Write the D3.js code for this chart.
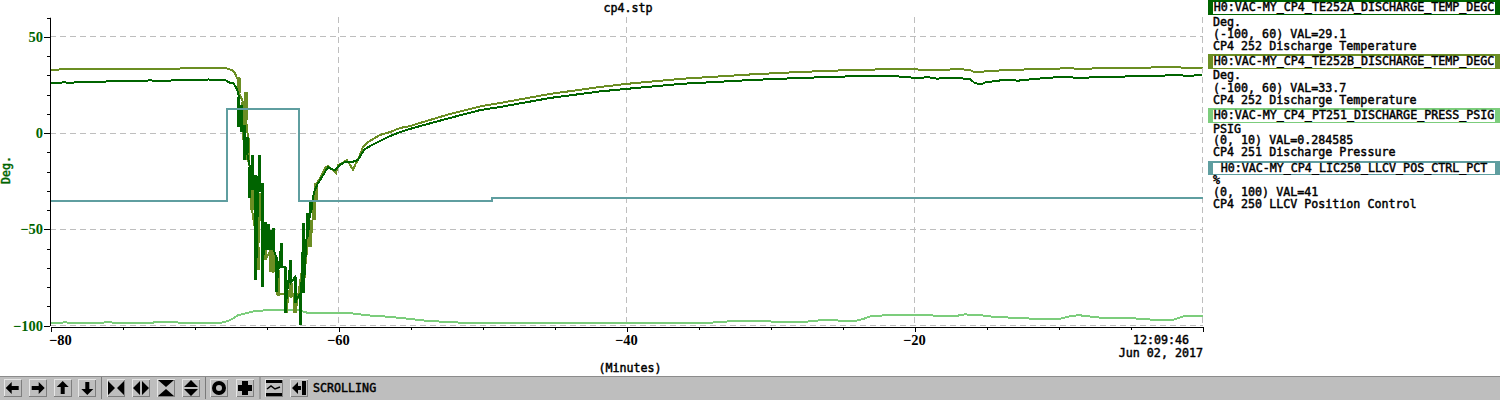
<!DOCTYPE html>
<html><head><meta charset="utf-8">
<script src="https://cdn.jsdelivr.net/npm/d3@7/dist/d3.min.js"></script>
<style>html,body{margin:0;padding:0;background:#fff;overflow:hidden}svg{display:block}
text{font-family:"DejaVu Sans Mono",monospace;font-size:11.67px;fill:#000;font-weight:normal}
.mono{stroke-width:.45px}
</style></head><body><svg id="c" width="1500" height="400"></svg>
<script>
const titleText="cp4.stp", xLabel="(Minutes)", yLabel="Deg.", timeLabel="12:09:46", dateLabel="Jun 02, 2017", statusText="SCROLLING";
const xMajorTicks=[-80,-60,-40,-20,0], xTickLabels=["-80","-60","-40","-20"];
const yMajorTicks=[-100,-50,0,50];
const legendNames=["H0:VAC-MY_CP4_TE252A_DISCHARGE_TEMP_DEGC","H0:VAC-MY_CP4_TE252B_DISCHARGE_TEMP_DEGC","H0:VAC-MY_CP4_PT251_DISCHARGE_PRESS_PSIG","H0:VAC-MY_CP4_LIC250_LLCV_POS_CTRL_PCT"];
const legendUnits=["Deg.","Deg.","PSIG","%"];
const legendRanges=["(-100, 60) VAL=29.1","(-100, 60) VAL=33.7","(0, 10) VAL=0.284585","(0, 100) VAL=41"];
const legendDescs=["CP4 252 Discharge Temperature","CP4 252 Discharge Temperature","CP4 251 Discharge Pressure","CP4 250 LLCV Position Control"];
const seriesColors=["#006400","#6b8e23","#7ccd7c","#5f9ea0"];

// [minutes, deg]
const tempAStart=[[-79.96,26],[-79,26.3],[-78.6,26],[-78,26.6],[-77,26.4],[-76,26.8],[-75,27],[-73,27.3],[-72.5,26.9],[-72,27.2],[-71,27.4],[-70,27.4],[-69,27.8],[-68.5,27.5],[-67.88,27.5],[-67.53,26],[-67.33,26],[-67.12,23.9],[-66.98,21.3]];
// [minutes, high, low]: the envelope of one burst of readings
const tempABins=[[-66.91,18.7,3.1],[-66.77,14.6,0.5],[-66.56,4.2,-14],[-66.35,-2.1,-10.4],[-66.15,-17.7,-33.8],[-65.94,-11.4,-29.6],[-65.76,-21.8,-46.2],[-65.73,-45.2,-76.4],[-65.52,-11.4,-30.6],[-65.31,-26,-80],[-65.10,-46.2,-60.8],[-64.89,-47.3,-60.8],[-64.69,-50.4,-60.8],[-64.48,-49.4,-60.8],[-64.34,-64.4,-82.6],[-63.96,-57.1,-69.6],[-63.71,-69.6,-93.5],[-63.33,-66,-77.9],[-63.02,-74.8,-88.3],[-62.67,-83.1,-99.7],[-62.43,-46.8,-83.1],[-62.12,-41.6,-54],[-61.91,-34.8,-41.6]];
const tempAEnd=[[-61.7,-30.6],[-61.42,-26],[-61.28,-24.4],[-60.94,-20.3],[-60.73,-17.7],[-60.52,-18.7],[-60.24,-19.2],[-59.9,-16.6],[-59.55,-15.1],[-59.06,-15.1],[-58.65,-14],[-58.37,-10.4],[-58.16,-8.3],[-57.67,-6.2],[-57.12,-4.2],[-56.42,-1.6],[-55.73,0.5],[-55.03,2.1],[-54.34,3.6],[-52.26,7.8],[-50.17,11.9],[-48.78,13.5],[-45.31,18.2],[-41.84,21.6],[-40.03,22.9],[-36.28,25.5],[-31.42,27.5],[-27.95,28.6],[-23.78,29.6],[-22.5,29.4],[-21.5,29.6],[-20.03,28.7],[-19,28.9],[-18.4,28.2],[-17.8,28.8],[-16.84,28.4],[-16.15,28.1],[-15.8,25.8],[-15.3,25.5],[-15.1,26.3],[-14.06,27.3],[-13.37,27.5],[-12.8,27.2],[-11.63,28.1],[-9.9,29.1],[-9.2,29.1],[-8.7,28.4],[-8.51,28.6],[-7.12,29.1],[-3.65,29.6],[-2.5,29.9],[-1.91,30.1],[-1.5,30.2],[-1.22,29.6],[-0.5,29.9],[0,30]];

const tempBStart=[[-79.96,32.5],[-79.4,33],[-78,33],[-76,33],[-74,33],[-72,33.2],[-71,33.5],[-69.5,33.6],[-68.5,33.8],[-67.88,33.8],[-67.4,32.7],[-67.19,31.2],[-67.05,28.6]];
const tempBBins=[[-66.91,28.6,20.8],[-66.63,16.1,7.8],[-66.53,6.8,-3.6],[-66.42,21.3,6.8],[-66.28,-2.6,-14],[-66.15,-17.7,-26],[-66.01,-21.8,-40],[-65.59,-59.2,-71.2],[-65.49,-31.2,-41.6],[-65.07,-54,-66],[-64.72,-60.8,-72.2],[-64.55,-59.7,-72.2],[-64.2,-71.2,-84.2],[-63.65,-83.1,-93.5],[-63.33,-77.9,-85.2],[-62.99,-83.1,-93.5],[-62.4,-64.4,-75.3],[-61.95,-45.2,-59.2],[-61.7,-34.8,-45.2],[-61.56,-26,-34.8]];
const tempBEnd=[[-61.49,-26],[-61.28,-23.4],[-60.94,-18.2],[-60.73,-17.1],[-60.17,-20.8],[-60.03,-16.6],[-59.76,-15.6],[-59.41,-14],[-58.99,-19.2],[-58.85,-16.6],[-58.65,-14],[-58.3,-7.3],[-57.95,-4.7],[-57.12,-1],[-56.42,0.5],[-55.73,2.6],[-55.03,3.6],[-54.34,5.2],[-52.26,9.9],[-50.17,13.8],[-48.78,15.6],[-45.31,20.3],[-41.84,23.9],[-40.03,25.5],[-36.28,28.1],[-31.42,30.4],[-27.95,31.7],[-23.78,32.9],[-20.03,33.2],[-19.5,32.8],[-18,32.9],[-16.84,33.1],[-16.15,32.8],[-15.8,31.4],[-15.1,32],[-14.06,32.5],[-13.37,32.7],[-11.63,33.2],[-9.9,33.5],[-9.2,33.7],[-8.51,33.2],[-7.12,33.7],[-3.65,34],[-1.91,34.5],[-1.22,33.7],[-0.4,34],[0,33.8]];

// [minutes, psig]
const pressSamples=[[-79.96,0.08],[-79,0.1],[-78,0.08],[-76,0.1],[-74,0.08],[-72,0.11],[-70,0.08],[-68.5,0.08],[-68,0.1],[-67.6,0.16],[-67.3,0.23],[-67,0.33],[-66.5,0.39],[-66,0.45],[-65.2,0.49],[-64,0.51],[-63,0.51],[-62.6,0.47],[-62.2,0.42],[-61,0.42],[-60,0.39],[-59,0.39],[-58,0.33],[-57,0.3],[-56,0.26],[-54,0.16],[-52,0.1],[-50,0.08],[-48,0.07],[-46,0.08],[-44,0.08],[-42,0.09],[-40,0.08],[-38,0.07],[-36,0.08],[-34.5,0.08],[-33,0.13],[-31.5,0.15],[-30,0.13],[-28,0.1],[-26.5,0.17],[-25,0.16],[-24,0.16],[-23.5,0.22],[-23,0.31],[-22,0.33],[-21,0.34],[-20,0.35],[-18.5,0.32],[-17,0.32],[-16.5,0.36],[-15.5,0.34],[-14.5,0.28],[-13,0.25],[-11,0.2],[-10,0.21],[-9,0.32],[-8.5,0.33],[-7,0.25],[-5,0.24],[-3.5,0.19],[-2,0.19],[-1.3,0.3],[-1,0.32],[0,0.32]];
// [minutes, percent]
const llcvSamples=[[-79.96,40.3],[-67.74,40.3],[-67.74,70.3],[-62.77,70.3],[-62.77,40.3],[-49.33,40.3],[-49.33,41.5],[0,41.5]];

const W=1500,H=400;
const svg=d3.select("#c");
const x=d3.scaleLinear().domain([-80,0]).range([50.5,1202.5]);
const y=d3.scaleLinear().domain([-100,60]).range([325.5,17.5]);
const yPress=d3.scaleLinear().domain([0,10]).range([325.5,17.5]);
const yPct=d3.scaleLinear().domain([0,100]).range([325.5,17.5]);

// grid
const grid=svg.append("g").attr("stroke","#bebebe").attr("stroke-width",1).attr("stroke-dasharray","6,4").attr("shape-rendering","crispEdges");
grid.selectAll(".v").data(xMajorTicks).join("line").attr("x1",d=>x(d)).attr("x2",d=>x(d)).attr("y1",17).attr("y2",326);
grid.selectAll(".h").data(yMajorTicks).join("line").attr("x1",50).attr("x2",1203).attr("y1",d=>Math.floor(y(d))+.5).attr("y2",d=>Math.floor(y(d))+.5);

const drawLine=(pts,scale,color)=>{
 const line=d3.line().x(d=>x(d[0])).y(d=>scale(d[1]));
 svg.append("path").attr("d",line(pts)).attr("fill","none").attr("stroke",color).attr("stroke-width",2).attr("shape-rendering","crispEdges");
};
const zigzag=bins=>bins.flatMap(b=>[[b[0],b[1]],[b[0],b[2]]]);
const drawBins=(bins,color,w)=>{
 svg.append("g").selectAll("line").data(bins).join("line")
  .attr("x1",d=>x(d[0])).attr("x2",d=>x(d[0])).attr("y1",d=>y(d[1])).attr("y2",d=>y(d[2]))
  .attr("stroke",color).attr("stroke-width",w).attr("shape-rendering","crispEdges");
};
drawLine(pressSamples,yPress,seriesColors[2]);
drawLine([...tempBStart,...zigzag(tempBBins),...tempBEnd],y,seriesColors[1]);
drawBins(tempBBins,seriesColors[1],4);
drawLine([...tempAStart,...zigzag(tempABins),...tempAEnd],y,seriesColors[0]);
drawBins(tempABins,seriesColors[0],3);
drawLine(llcvSamples,yPct,seriesColors[3]);

// axes
const ax=d3.axisBottom(x).tickValues(d3.range(-80,1,5)).tickFormat("").tickSize(3).tickSizeOuter(0);
const gx=svg.append("g").attr("transform","translate(0,326.5)").call(ax).attr("shape-rendering","crispEdges");
gx.selectAll(".tick line").filter(d=>d%20===0).attr("y2",5);
const ay=d3.axisLeft(y).tickValues(d3.range(-100,61,10)).tickFormat("").tickSize(3).tickSizeOuter(0);
const gy=svg.append("g").attr("transform","translate(49.5,0)").call(ay).attr("shape-rendering","crispEdges");
gy.selectAll(".tick line").filter(d=>d%50===0).attr("x2",-6);

const serif='"Liberation Serif",serif';
svg.selectAll(".yl").data(yMajorTicks).join("text").text(d=>d<0?"\u2212"+(-d):d)
 .attr("x",43).attr("y",d=>y(d)+5).attr("text-anchor","end").style("font-family",serif).style("font-size","14.5px").style("font-weight","bold").style("fill",seriesColors[0]);
svg.selectAll(".xl").data(xTickLabels).join("text").text(d=>d.replace("-","\u2212"))
 .attr("x",d=>x(+d)+(+d===-80?10:0)).attr("y",345).attr("text-anchor","middle").style("font-family",serif).style("font-size","14.5px").style("font-weight","bold");

const T=(s,xx,yy,a,c)=>svg.append("text").text(s).attr("x",xx).attr("y",yy).attr("text-anchor",a||"start").attr("class","mono").style("fill",c||"#000").attr("stroke",c||"#000");
T(titleText,628,12,"middle");
T(xLabel,630,372,"middle");
T(timeLabel,1161,343.5,"middle");
T(dateLabel,1203,357,"end");
svg.append("text").text(yLabel).attr("class","mono").attr("transform","translate(10,170) rotate(-90)").attr("text-anchor","middle").style("fill",seriesColors[0]).attr("stroke",seriesColors[0]);

// legend
const boxTop=[0,54,108,161], boxH=[15,15,15,14], textY=[[25.5,37.5,50],[79,91.5,104],[132.5,143.5,156],[184,195.5,208]];
legendNames.forEach((n,i)=>{
 svg.append("rect").attr("x",1208).attr("y",boxTop[i]).attr("width",292).attr("height",boxH[i]).attr("fill",seriesColors[i]);
 svg.append("rect").attr("x",1213).attr("y",boxTop[i]+2).attr("width",282).attr("height",boxH[i]-3).attr("fill","#fff");
 T(n,1354,boxTop[i]+10.5,"middle");
 T(legendUnits[i],1213,textY[i][0]);T(legendRanges[i],1213,textY[i][1]);T(legendDescs[i],1213,textY[i][2]);
});

// toolbar
svg.append("rect").attr("x",0).attr("y",376).attr("width",W).attr("height",24).attr("fill","#bebebe");
svg.append("line").attr("x1",0).attr("x2",W).attr("y1",376.5).attr("y2",376.5).attr("stroke","#8c8c8c");
[101,205,259.5].forEach(s=>svg.append("line").attr("x1",s+.5).attr("x2",s+.5).attr("y1",377).attr("y2",399).attr("stroke","#7a7a7a"));
const icons=[
 [12.7,"M-7 0L-1 -6V-2H6V2H-1V6Z"],[37.7,"M7 0L1 -6V-2H-6V2H1V6Z"],[62.7,"M0 -7L6 -1H2V6H-2V-1H-6Z"],[87.3,"M0 7L6 1H2V-6H-2V1H-6Z"],
 [116,"M-8 -7L-1 0L-8 7ZM8 -7L1 0L8 7Z"],[141,"M-1 -7L-8 0L-1 7ZM1 -7L8 0L1 7Z"],[166,"M-8 -8H8L0 -1ZM-8 8H8L0 1Z"],[191,"M0 -8L7 -1H-7ZM0 8L7 1H-7Z"],
 [219,"M0 -7A7 7 0 1 0 0 7A7 7 0 1 0 0 -7ZM0 -3A3 3 0 1 1 0 3A3 3 0 1 1 0 -3Z"],[245,"M-3 -7H3V-3H7V3H3V7H-3V3H-7V-3H-3Z"],
 [274,"M-8 -8H8V-5H-8ZM-8 5H8V8H-8Z"],[299,"M-7 0L-1 -6V-2H2V2H-1V6ZM3 -7H7V7H3Z"]];
icons.forEach(([cx,p])=>{
 svg.append("path").attr("d",`M${cx-8.5} 396.5V379.5H${cx+8.5}`).attr("fill","none").attr("stroke","#e6e6e6").attr("shape-rendering","crispEdges");
 svg.append("path").attr("d",`M${cx+8.5} 379.5V396.5H${cx-8.5}`).attr("fill","none").attr("stroke","#7e7e7e").attr("shape-rendering","crispEdges");
 svg.append("path").attr("d",p).attr("transform",`translate(${cx},388)`).attr("fill","#000");
});
svg.append("path").attr("d","M-7 1L-3 -2L1 1L6 -1").attr("transform","translate(274,388)").attr("fill","none").attr("stroke","#000").attr("stroke-width",1.5);
T(statusText,313,392);
</script></body></html>
